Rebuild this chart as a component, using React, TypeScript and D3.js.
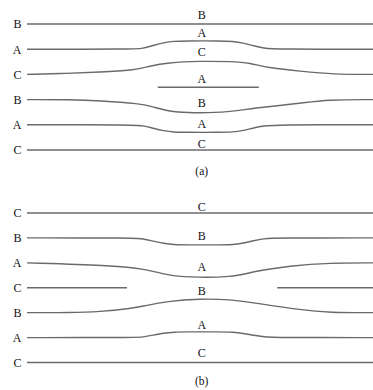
import React from "react";
import * as d3 from "d3";

// ---- data (x in % of the row length, y in layer units) ----
const aLeftLabels = ["B", "A", "C", "B", "A", "C"];
const bLeftLabels = ["C", "B", "A", "C", "B", "A", "C"];

const flatX = [0, 100];
const narrowX = [0, 30.5, 33.5, 36.5, 39.5, 42.5, 45.7, 55.8, 59.5, 62.5, 65.5, 68.5, 71.5, 100];

// panel (a)
const aLine0Y = [0, 0];
const aLine1Y = [1, 1, 0.97, 0.85, 0.74, 0.68, 0.67, 0.67, 0.69, 0.75, 0.87, 0.96, 1, 1];
const aLine2X = [0, 11.6, 21.1, 30.6, 35.5, 40.5, 50, 59, 64.5, 69.4, 78.9, 88.4, 100];
const aLine2Y = [2, 1.96, 1.91, 1.84, 1.67, 1.54, 1.47, 1.49, 1.54, 1.74, 1.87, 2, 2];
const aPartialX = [37.8, 67];
const aPartialY = [2.51, 2.51];
const aLine3X = [0, 12.4, 21.1, 32.7, 36.4, 39.9, 43, 50, 58, 65.3, 78.9, 86.7, 100];
const aLine3Y = [3, 3, 3.04, 3.16, 3.29, 3.42, 3.5, 3.53, 3.5, 3.34, 3.15, 3, 3];
const aLine4Y = [4, 4, 4.03, 4.14, 4.24, 4.29, 4.3, 4.3, 4.29, 4.23, 4.12, 4.04, 4, 4];
const aLine5Y = [5, 5];
const aMidLabels = ["B", "A", "C", "A", "B", "A", "C"];
const aMidLabelY = [-0.19, 0.5, 1.26, 2.33, 3.3, 4.14, 4.93];

// panel (b)
const bLine0Y = [0, 0];
const bLine1Y = [1, 1, 1.03, 1.13, 1.22, 1.27, 1.28, 1.28, 1.27, 1.21, 1.11, 1.03, 1, 1];
const bLine2X = [0, 24, 33.5, 40.5, 46.2, 59.5, 65.3, 76, 87.6, 100];
const bLine2Y = [2, 2.1, 2.23, 2.49, 2.58, 2.58, 2.35, 2.12, 2, 2];
const bPartialLeftX = [0, 28.9];
const bPartialRightX = [72.3, 100];
const bPartialY = [3, 3];
const bLine4X = [0, 12.4, 21.1, 29.8, 33.5, 40.5, 50, 58.7, 65.3, 78.9, 87.6, 100];
const bLine4Y = [4, 4, 3.96, 3.84, 3.74, 3.54, 3.44, 3.47, 3.6, 3.89, 4, 4];
const bLine5Y = [5, 5, 4.98, 4.9, 4.82, 4.78, 4.77, 4.77, 4.78, 4.83, 4.91, 4.97, 5, 5];
const bLine6Y = [6, 6];
const bMidLabels = ["C", "B", "A", "B", "A", "C"];
const bMidLabelY = [-0.09, 1.08, 2.32, 3.29, 4.67, 5.77];

const midLabelX = 50.5;
const captionA = "(a)";
const captionAY = 6.0;
const captionB = "(b)";
const captionBY = 6.9;

const W = 373;
const H = 390;
const FONT = "Liberation Serif, DejaVu Serif, serif";

const zip = (xs: number[], ys: number[]) => xs.map((x, i) => [x, ys[i]] as [number, number]);

export default function App() {
  const x = d3.scaleLinear().domain([0, 100]).range([27, 373]);
  const yA = d3.scaleLinear().domain([0, 5]).range([24, 150]);
  const yB = d3.scaleLinear().domain([0, 6]).range([213, 362.5]);

  const panels = [
    {
      y: yA,
      left: aLeftLabels,
      lines: [
        zip(flatX, aLine0Y),
        zip(narrowX, aLine1Y),
        zip(aLine2X, aLine2Y),
        zip(aPartialX, aPartialY),
        zip(aLine3X, aLine3Y),
        zip(narrowX, aLine4Y),
        zip(flatX, aLine5Y),
      ],
      mid: aMidLabels,
      midY: aMidLabelY,
      caption: captionA,
      captionY: captionAY,
    },
    {
      y: yB,
      left: bLeftLabels,
      lines: [
        zip(flatX, bLine0Y),
        zip(narrowX, bLine1Y),
        zip(bLine2X, bLine2Y),
        zip(bPartialLeftX, bPartialY),
        zip(bPartialRightX, bPartialY),
        zip(bLine4X, bLine4Y),
        zip(narrowX, bLine5Y),
        zip(flatX, bLine6Y),
      ],
      mid: bMidLabels,
      midY: bMidLabelY,
      caption: captionB,
      captionY: captionBY,
    },
  ];

  return (
    <svg
      width={W}
      height={H}
      style={{ position: "absolute", left: 0, top: 0, background: "#fff", fontFamily: FONT }}
    >
      {panels.map((p, pi) => {
        const line = d3
          .line<[number, number]>()
          .x((d) => x(d[0]))
          .y((d) => p.y(d[1]))
          .curve(d3.curveBasis);
        return (
          <g key={pi}>
            {p.lines.map((l, i) => (
              <path
                key={i}
                d={line(l) || ""}
                fill="none"
                stroke="#6a6a6a"
                strokeWidth={1.4}
              />
            ))}
            {p.left.map((t, i) => (
              <text
                key={"l" + i}
                x={21.5}
                y={p.y(i)}
                dy="0.36em"
                textAnchor="end"
                fontSize={12}
                fill="#111"
              >
                {t}
              </text>
            ))}
            {p.mid.map((t, i) => (
              <text
                key={"m" + i}
                x={x(midLabelX)}
                y={p.y(p.midY[i])}
                textAnchor="middle"
                fontSize={12}
                fill="#111"
              >
                {t}
              </text>
            ))}
            <text
              x={x(midLabelX)}
              y={p.y(p.captionY)}
              textAnchor="middle"
              fontSize={11.5}
              fill="#111"
            >
              {p.caption}
            </text>
          </g>
        );
      })}
    </svg>
  );
}
